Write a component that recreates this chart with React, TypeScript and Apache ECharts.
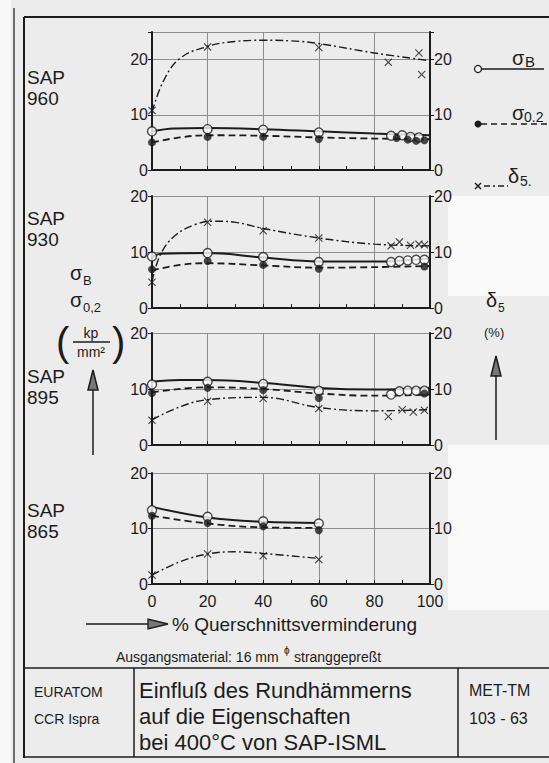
import React, { useEffect, useRef } from "react";
import * as echarts from "echarts";

// ---------- data ----------
const xTickValues = [0, 20, 40, 60, 80, 100];
const panelNames = ["960", "930", "895", "865"];
const panelYMax = [25, 20, 20, 20];

// SAP 960
const sap960SigmaBPoints = [[0, 7.0], [20, 7.4], [40, 7.3], [60, 6.8], [86, 6.2], [90, 6.3], [93, 6.0], [96, 5.9]];
const sap960SigmaBCurve = [[0, 7.0], [8, 7.5], [20, 7.6], [40, 7.4], [60, 7.0], [80, 6.6], [100, 6.3]];
const sap960YieldPoints = [[0, 5.0], [20, 6.0], [40, 6.0], [60, 5.6], [88, 5.8], [92, 5.5], [95, 5.3], [98, 5.4]];
const sap960YieldCurve = [[0, 5.0], [10, 5.9], [20, 6.3], [40, 6.2], [60, 5.9], [80, 5.7], [100, 5.6]];
const sap960ElongPoints = [[0, 10.8], [20, 22.3], [60, 22.2], [85, 19.5], [96, 21.2], [97, 17.3]];
const sap960ElongCurve = [[0, 10.5], [4, 16], [10, 20.2], [20, 22.4], [30, 23.3], [40, 23.5], [50, 23.4], [60, 22.9], [80, 21.2], [100, 19.8]];
const sap960Notes = [[92, 22.0, "28"]];

// SAP 930
const sap930SigmaBPoints = [[0, 9.2], [20, 9.8], [40, 9.1], [60, 8.2], [86, 8.2], [89, 8.4], [92, 8.5], [95, 8.6], [98, 8.6]];
const sap930SigmaBCurve = [[0, 9.0], [3, 9.7], [20, 9.8], [40, 9.0], [60, 8.3], [80, 8.3], [100, 8.9]];
const sap930YieldPoints = [[0, 6.9], [20, 8.4], [40, 7.7], [60, 7.0], [98, 7.4]];
const sap930YieldCurve = [[0, 6.7], [10, 7.7], [20, 8.0], [40, 7.6], [60, 7.2], [80, 7.3], [100, 7.5]];
const sap930ElongPoints = [[0, 4.6], [20, 15.3], [40, 13.8], [60, 12.5], [86, 11.1], [89, 11.8], [93, 11.2], [96, 11.4], [98, 11.3]];
const sap930ElongCurve = [[0, 4.7], [3, 9.5], [8, 12.8], [15, 14.8], [22, 15.5], [30, 15.3], [40, 14.2], [60, 12.5], [80, 11.4], [100, 11.1]];

// SAP 895
const sap895SigmaBPoints = [[0, 10.8], [20, 11.3], [40, 10.9], [60, 9.7], [86, 9.0], [89, 9.6], [92, 9.7], [95, 9.7], [98, 9.7]];
const sap895SigmaBCurve = [[0, 11.3], [10, 11.6], [20, 11.6], [40, 11.1], [60, 10.2], [80, 9.9], [100, 10.2]];
const sap895YieldPoints = [[0, 9.3], [20, 10.2], [40, 9.8], [60, 8.4], [98, 9.2]];
const sap895YieldCurve = [[0, 9.4], [20, 10.3], [40, 10.0], [60, 9.2], [80, 8.8], [100, 9.0]];
const sap895ElongPoints = [[0, 4.4], [20, 7.8], [40, 8.3], [60, 6.5], [85, 5.1], [90, 6.3], [94, 5.9], [98, 6.2]];
const sap895ElongCurve = [[0, 4.5], [10, 6.8], [20, 8.1], [40, 8.5], [60, 6.7], [80, 6.1], [100, 6.3]];

// SAP 865
const sap865SigmaBPoints = [[0, 13.3], [20, 12.1], [40, 11.3], [60, 10.9]];
const sap865SigmaBCurve = [[0, 13.9], [20, 12.0], [40, 11.2], [60, 11.0]];
const sap865YieldPoints = [[0, 12.3], [20, 11.0], [40, 10.4], [60, 9.7]];
const sap865YieldCurve = [[0, 12.3], [20, 10.9], [40, 10.2], [60, 10.1]];
const sap865ElongPoints = [[0, 1.6], [20, 5.4], [40, 5.1], [60, 4.4]];
const sap865ElongCurve = [[0, 1.6], [10, 4.0], [20, 5.4], [30, 5.8], [40, 5.5], [60, 4.6]];

const panels = [
  { sb: sap960SigmaBPoints, sbc: sap960SigmaBCurve, y: sap960YieldPoints, yc: sap960YieldCurve, e: sap960ElongPoints, ec: sap960ElongCurve, notes: sap960Notes },
  { sb: sap930SigmaBPoints, sbc: sap930SigmaBCurve, y: sap930YieldPoints, yc: sap930YieldCurve, e: sap930ElongPoints, ec: sap930ElongCurve, notes: [] },
  { sb: sap895SigmaBPoints, sbc: sap895SigmaBCurve, y: sap895YieldPoints, yc: sap895YieldCurve, e: sap895ElongPoints, ec: sap895ElongCurve, notes: [] },
  { sb: sap865SigmaBPoints, sbc: sap865SigmaBCurve, y: sap865YieldPoints, yc: sap865YieldCurve, e: sap865ElongPoints, ec: sap865ElongCurve, notes: [] },
];

// ---------- styling / layout ----------
const INK = "#1c1c1c";
const GRIDC = "#8e8e8e";
const FONT = "'Liberation Sans', Arial, sans-serif";
const CROSS = "path://M1,0L5,4L9,0L10,1L6,5L10,9L9,10L5,6L1,10L0,9L4,5L0,1Z";

const PLOT_LEFT = 152;
const PLOT_RIGHT = 430;
const gridBoxes = [
  { top: 32, bottom: 170 },
  { top: 196, bottom: 308 },
  { top: 333, bottom: 445 },
  { top: 473, bottom: 584 },
];

function buildOption() {
  const grid = gridBoxes.map((g) => ({
    left: PLOT_LEFT,
    width: PLOT_RIGHT - PLOT_LEFT,
    top: g.top,
    height: g.bottom - g.top,
  }));

  const xAxis = gridBoxes.map((_, i) => ({
    type: "value",
    gridIndex: i,
    min: 0,
    max: 100,
    interval: 20,
    axisLine: { show: true, lineStyle: { color: INK, width: 2 } },
    axisTick: { show: true, inside: true, length: 4, lineStyle: { color: INK } },
    minorTick: { show: true, splitNumber: 2, length: 4, lineStyle: { color: INK } },
    splitLine: { show: true, lineStyle: { color: GRIDC, width: 1 } },
    axisLabel: {
      show: i === 3,
      color: INK,
      fontFamily: FONT,
      fontSize: 16,
      margin: 9,
      formatter: (v: number) => (xTickValues.includes(v) ? String(v) : ""),
    },
  }));

  const yAxis: any[] = [];
  gridBoxes.forEach((_, i) => {
    const max = panelYMax[i];
    const common = {
      type: "value",
      gridIndex: i,
      min: 0,
      max,
      interval: 10,
      axisLine: { show: true, lineStyle: { color: INK, width: 2 } },
      axisTick: { show: true, length: 4, lineStyle: { color: INK } },
      axisLabel: {
        color: INK,
        fontFamily: FONT,
        fontSize: 16,
        margin: 4,
        formatter: (v: number) => (v % 10 === 0 ? String(v) : ""),
      },
    };
    yAxis.push({ ...common, position: "left", splitLine: { show: true, lineStyle: { color: GRIDC, width: 1 } } });
    yAxis.push({ ...common, position: "right", splitLine: { show: false } });
  });

  const series: any[] = [];
  panels.forEach((p, i) => {
    const ax = { xAxisIndex: i, yAxisIndex: i * 2 };
    series.push({ type: "line", ...ax, data: p.sbc, smooth: 0.4, showSymbol: false, symbol: "none", z: 3, lineStyle: { color: INK, width: 2 } });
    series.push({ type: "line", ...ax, data: p.yc, smooth: 0.4, showSymbol: false, symbol: "none", z: 3, lineStyle: { color: INK, width: 1.8, type: [7, 4] } });
    series.push({ type: "line", ...ax, data: p.ec, smooth: 0.4, showSymbol: false, symbol: "none", z: 3, lineStyle: { color: INK, width: 1.4, type: [8, 3, 2, 3] } });
    series.push({ type: "scatter", ...ax, data: p.sb, symbol: "circle", symbolSize: 9, z: 5, itemStyle: { color: "#fff", borderColor: INK, borderWidth: 1.4 } });
    series.push({ type: "scatter", ...ax, data: p.y, symbol: "circle", symbolSize: 8, z: 6, itemStyle: { color: INK } });
    series.push({ type: "scatter", ...ax, data: p.e, symbol: CROSS, symbolSize: 8, z: 6, itemStyle: { color: INK } });
    if (p.notes.length) {
      series.push({
        type: "scatter",
        ...ax,
        data: p.notes.map((n: any) => ({ value: [n[0], n[1]], name: n[2] })),
        symbol: "none",
        z: 6,
        label: { show: true, position: "inside", formatter: (d: any) => d.name, fontSize: 8, color: INK, fontFamily: FONT },
      });
    }
  });

  const txt = (text: string, x: number, y: number, size: number, extra: any = {}) => ({
    type: "text",
    x,
    y,
    z: 10,
    style: { text, font: `${size}px ${FONT}`, fill: INK, align: "left", verticalAlign: "middle", ...extra },
  });
  const ln = (x1: number, y1: number, x2: number, y2: number, w = 1.5, dash: any = null) => ({
    type: "line",
    z: 10,
    shape: { x1, y1, x2, y2 },
    style: { stroke: INK, lineWidth: w, lineDash: dash },
  });

  const graphic: any[] = [
    // scan patches
    { type: "rect", z: -5, shape: { x: 0, y: 0, width: 11, height: 763 }, style: { fill: "#f8f8f8" } },
    { type: "rect", z: -5, shape: { x: 448, y: 196, width: 101, height: 100 }, style: { fill: "#fafafa" } },
    { type: "rect", z: -5, shape: { x: 448, y: 445, width: 101, height: 165 }, style: { fill: "#fafafa" } },
    // frame
    ln(14, 8, 14, 763, 1.2),
    ln(24, 17, 24, 758, 2),
    ln(24, 17, 549, 17, 2),
    ln(24, 668, 549, 668, 1.5),
    ln(24, 757, 549, 757, 1.5),
    ln(134, 668, 134, 757, 1.5),
    ln(458, 668, 458, 757, 1.5),
  ];

  // panel names
  const nameY = [77, 218, 376, 510];
  panelNames.forEach((n, i) => {
    graphic.push(txt("SAP", 27, nameY[i], 19));
    graphic.push(txt(n, 27, nameY[i] + 21, 19));
  });

  // left axis title
  graphic.push(txt("σ", 70, 273, 20));
  graphic.push(txt("B", 83, 280, 13));
  graphic.push(txt("σ", 70, 300, 20));
  graphic.push(txt("0,2", 83, 307, 13));
  graphic.push(txt("(", 56, 342, 40, { font: `300 40px ${FONT}` }));
  graphic.push(txt(")", 112, 342, 40, { font: `300 40px ${FONT}` }));
  graphic.push(txt("kp", 91, 333, 14, { align: "center" }));
  graphic.push(ln(73, 342, 110, 342, 1.3));
  graphic.push(txt("mm²", 91, 352, 14, { align: "center" }));
  graphic.push(ln(93, 455, 93, 385, 1.5));
  graphic.push({ type: "polygon", z: 10, shape: { points: [[93, 370], [88, 390], [98, 390]] }, style: { fill: "#777", stroke: INK, lineWidth: 1.5 } });

  // right axis title
  graphic.push(txt("δ", 486, 300, 20));
  graphic.push(txt("5", 498, 308, 12));
  graphic.push(txt("(%)", 484, 332, 13));
  graphic.push(ln(496, 440, 496, 372, 1.5));
  graphic.push({ type: "polygon", z: 10, shape: { points: [[496, 356], [491, 376], [501, 376]] }, style: { fill: "#777", stroke: INK, lineWidth: 1.5 } });

  // legend
  graphic.push(ln(482, 69, 544, 69, 1.5));
  graphic.push({ type: "circle", z: 11, shape: { cx: 478, cy: 69, r: 3.5 }, style: { fill: "#fff", stroke: INK, lineWidth: 1.3 } });
  graphic.push(txt("σ", 512, 58, 20));
  graphic.push(txt("B", 525, 61, 15));
  graphic.push(ln(481, 124, 549, 124, 1.5, [6, 4]));
  graphic.push({ type: "circle", z: 11, shape: { cx: 478, cy: 124, r: 3.5 }, style: { fill: INK } });
  graphic.push(txt("σ", 512, 113, 20));
  graphic.push(txt("0.2", 524, 117, 14));
  graphic.push(ln(484, 186, 508, 186, 1.3, [6, 3, 2, 3]));
  graphic.push(ln(475, 183, 481, 189, 1.5));
  graphic.push(ln(481, 183, 475, 189, 1.5));
  graphic.push(txt("δ", 508, 176, 20));
  graphic.push(txt("5.", 520, 181, 14));

  // x-axis title
  graphic.push(ln(86, 624, 158, 624, 1.5));
  graphic.push({ type: "polygon", z: 10, shape: { points: [[168, 624], [148, 619], [148, 629]] }, style: { fill: "#777", stroke: INK, lineWidth: 1.3 } });
  graphic.push(txt("% Querschnittsverminderung", 172, 624, 19));
  graphic.push(txt("Ausgangsmaterial: 16 mm", 116, 657, 14));
  graphic.push(txt("ϕ", 284, 650, 10));
  graphic.push(txt("stranggepreßt", 294, 657, 14));

  // title block
  graphic.push(txt("EURATOM", 34, 692, 14));
  graphic.push(txt("CCR Ispra", 34, 719, 14));
  graphic.push(txt("Einfluß des Rundhämmerns", 139, 690, 22));
  graphic.push(txt("auf die Eigenschaften", 139, 716, 22));
  graphic.push(txt("bei 400°C von SAP-ISML", 139, 742, 22));
  graphic.push(txt("MET-TM", 469, 690, 16));
  graphic.push(txt("103 - 63", 469, 718, 16));

  return {
    animation: false,
    backgroundColor: "#ececec",
    textStyle: { fontFamily: FONT },
    grid,
    xAxis,
    yAxis,
    series,
    graphic,
  };
}

export default function App() {
  const ref = useRef<HTMLDivElement>(null);
  useEffect(() => {
    if (!ref.current) return;
    const chart = echarts.init(ref.current, undefined, { renderer: "svg" });
    chart.setOption(buildOption() as any);
    return () => chart.dispose();
  }, []);
  return <div ref={ref} style={{ position: "fixed", left: 0, top: 0, width: 549, height: 763 }} />;
}
